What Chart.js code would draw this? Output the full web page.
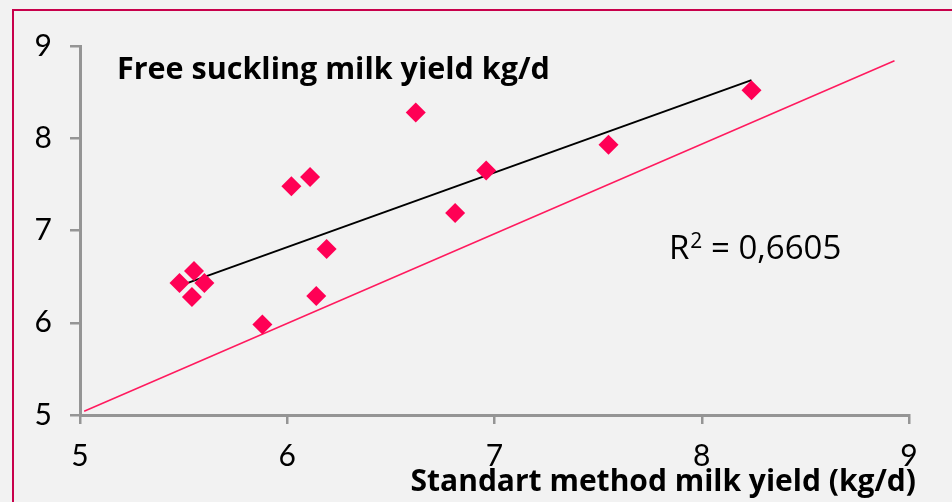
<!DOCTYPE html>
<html lang="en">
<head>
    <meta charset="UTF-8">
    <title>Milk yield</title>
    <script src="https://cdn.jsdelivr.net/npm/chart.js"></script>
    <style>
        html, body { margin: 0; padding: 0; background: #f2f2f2; overflow: hidden; }
        .frame {
            position: absolute; left: 12px; top: 9px; width: 1000px; height: 600px;
            border: 2px solid #c8004b;
        }
        .wrap { position: absolute; left: 0; top: 0; width: 952px; height: 502px; }
    </style>
</head>
<body>
    <div class="frame"></div>
    <div class="wrap"><canvas id="chart"></canvas></div>

    <script>
        // Значения
        const standartYield = [5.48, 5.55, 5.54, 5.60, 5.88, 6.02, 6.11, 6.14, 6.19, 6.62, 6.81, 6.96, 7.55, 8.24];
        const sucklingYield = [6.43, 6.56, 6.28, 6.43, 5.98, 7.48, 7.58, 6.29, 6.80, 8.28, 7.19, 7.65, 7.93, 8.52];

        // линия тренда и линия y≈x (концы)
        const trendX = [5.48, 8.24];
        const trendY = [6.40, 8.63];
        const refX = [5.02, 8.93];
        const refY = [5.04, 8.84];

        const xTicks = [5, 6, 7, 8, 9];
        const yTicks = [5, 6, 7, 8, 9];

        const chartTitle = 'Free suckling milk yield kg/d';
        const xTitle = 'Standart method milk yield (kg/d)';
        const r2Base = 'R';
        const r2Sup = '2';
        const r2Value = ' = 0,6605';

        const toPoints = (xs, ys) => xs.map((x, i) => ({ x: x, y: ys[i] }));

        const axisColor = '#959595';

        // подписи внутри графика
        const textPlugin = {
            id: 'texts',
            afterDraw(chart) {
                const ctx = chart.ctx;
                const area = chart.chartArea;
                ctx.save();
                ctx.fillStyle = '#000';
                ctx.textBaseline = 'alphabetic';

                ctx.font = 'bold 30.5px "Open Sans"';
                ctx.textAlign = 'left';
                ctx.fillText(chartTitle, area.left + 37, area.top + 33);

                ctx.font = 'bold 30px "Open Sans"';
                ctx.textAlign = 'right';
                ctx.fillText(xTitle, area.right + 7, area.bottom + 76);

                // R² = ...
                let x = area.left + 589;
                const base = area.top + 213;
                ctx.textAlign = 'left';
                ctx.font = '33px "Open Sans"';
                ctx.fillText(r2Base, x, base);
                x += ctx.measureText(r2Base).width + 1;
                ctx.font = '21px "Open Sans"';
                ctx.fillText(r2Sup, x, base - 11);
                x += ctx.measureText(r2Sup).width;
                ctx.font = '33px "Open Sans"';
                ctx.fillText(r2Value, x, base);
                ctx.restore();
            }
        };

        const ctx = document.getElementById('chart').getContext('2d');
        new Chart(ctx, {
            type: 'scatter',
            data: {
                datasets: [{
                    label: 'Points',
                    data: toPoints(standartYield, sucklingYield),
                    pointStyle: 'rectRot',
                    pointRadius: 10,
                    pointHoverRadius: 10,
                    backgroundColor: '#ff0055',
                    borderColor: '#ff0055',
                    borderWidth: 0
                }, {
                    label: 'Trend',
                    data: toPoints(trendX, trendY),
                    showLine: true,
                    borderColor: '#000000',
                    borderWidth: 2,
                    pointRadius: 0
                }, {
                    label: 'Reference',
                    data: toPoints(refX, refY),
                    showLine: true,
                    borderColor: '#ff1a5e',
                    borderWidth: 1.5,
                    pointRadius: 0
                }]
            },
            options: {
                responsive: true,
                maintainAspectRatio: false,
                animation: false,
                layout: { padding: { left: 0, top: 46, right: 43, bottom: 0 } },
                plugins: {
                    legend: { display: false },
                    tooltip: { enabled: false }
                },
                scales: {
                    x: {
                        type: 'linear',
                        min: 5,
                        max: 9,
                        afterBuildTicks: (s) => { s.ticks = xTicks.map(v => ({ value: v })); },
                        afterFit: (s) => { s.height = 87; },
                        grid: { drawOnChartArea: false, drawTicks: true, tickLength: 9, color: axisColor, lineWidth: 2.5 },
                        border: { display: true, color: axisColor, width: 3 },
                        ticks: { color: '#000', font: { family: 'Lato', size: 30 }, padding: 14, maxRotation: 0 }
                    },
                    y: {
                        type: 'linear',
                        min: 5,
                        max: 9,
                        afterBuildTicks: (s) => { s.ticks = yTicks.map(v => ({ value: v })); },
                        afterFit: (s) => { s.width = 80; },
                        grid: { drawOnChartArea: false, drawTicks: true, tickLength: 10, color: axisColor, lineWidth: 2.5 },
                        border: { display: true, color: axisColor, width: 3 },
                        ticks: { color: '#000', font: { family: 'Lato', size: 30 }, padding: 18 }
                    }
                }
            },
            plugins: [textPlugin]
        });
    </script>
</body>
</html>
